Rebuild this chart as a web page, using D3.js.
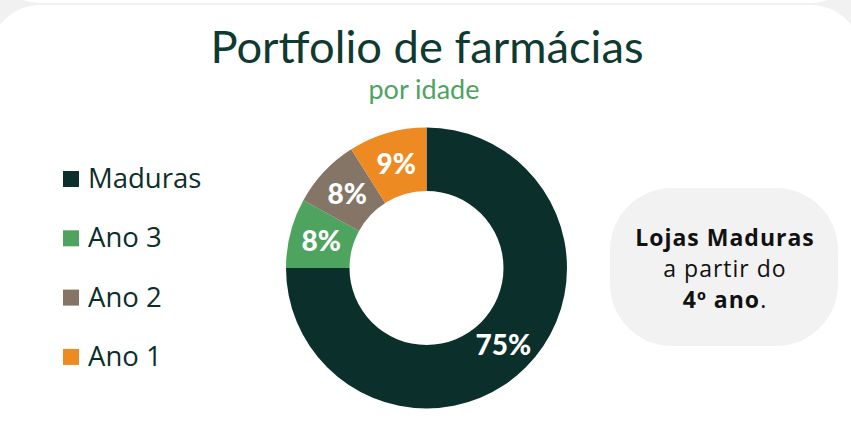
<!DOCTYPE html>
<html>
<head>
<meta charset="utf-8">
<script src="https://cdn.jsdelivr.net/npm/d3@7"></script>
<style>
  html, body { margin: 0; padding: 0; background: #f1f1f1; }
  svg { display: block; }
</style>
</head>
<body>
<svg id="board" width="851" height="433"></svg>
<script>
// chart data
let categories = ['Maduras', 'Ano 3', 'Ano 2', 'Ano 1']
let shares = [75, 8, 8, 9]
let colors = ['#0b2f2b', '#4ea35f', '#857566', '#ee8a22']
let titleText = 'Portfolio de farmácias'
let subtitleText = 'por idade'
let noteLines = [
    [{ t: 'Lojas Maduras', b: true }],
    [{ t: 'a partir do', b: false }],
    [{ t: '4º ano', b: true }, { t: '.', b: false }]
]

let board = d3.select('#board')

// background cards
board.append('rect')
    .attr('x', -10).attr('y', -100).attr('width', 871).attr('height', 103)
    .attr('rx', 50).attr('fill', '#ffffff')
board.append('rect')
    .attr('x', -10).attr('y', 5).attr('width', 871).attr('height', 500)
    .attr('rx', 50).attr('fill', '#ffffff')

// titles
board.append('text')
    .attr('x', 427).attr('y', 63)
    .attr('text-anchor', 'middle')
    .style('font-family', 'Lato')
    .style('font-size', '45.3px')
    .attr('fill', '#0f3a30')
    .text(titleText)

board.append('text')
    .attr('x', 424).attr('y', 98.5)
    .attr('text-anchor', 'middle')
    .style('font-family', 'Lato')
    .style('font-size', '27px')
    .attr('fill', '#4ea35f')
    .text(subtitleText)

// donut
let cx = 426.5, cy = 268
let outerR = 140.5, innerR = 77

let pie = d3.pie().sort(null).value((d) => d.value)
let arc = d3.arc().innerRadius(innerR).outerRadius(outerR)
let pieData = pie(categories.map((c, i) => ({ name: c, value: shares[i], color: colors[i] })))

let donut = board.append('g').attr('transform', `translate(${cx},${cy})`)

donut.selectAll('path')
    .data(pieData)
    .enter()
    .append('path')
    .attr('d', arc)
    .attr('fill', (d) => d.data.color)

donut.selectAll('text')
    .data(pieData)
    .enter()
    .append('text')
    .attr('transform', (d) => `translate(${arc.centroid(d)})`)
    .attr('text-anchor', 'middle')
    .attr('dy', '0.36em')
    .style('font-family', 'Lato')
    .style('font-weight', '900')
    .style('font-size', '28px')
    .attr('fill', '#ffffff')
    .text((d) => d.data.value + '%')

// legend
let legend = board.append('g')
let rows = legend.selectAll('g')
    .data(categories)
    .enter()
    .append('g')
    .attr('transform', (d, i) => `translate(63, ${171 + i * 59.3})`)

rows.append('rect')
    .attr('width', 16).attr('height', 16)
    .attr('fill', (d, i) => colors[i])

rows.append('text')
    .attr('x', 25).attr('y', 17)
    .style('font-family', 'Open Sans')
    .style('font-size', '27.5px')
    .attr('fill', '#0b2f2b')
    .text((d) => d)

// note box
board.append('rect')
    .attr('x', 610).attr('y', 188).attr('width', 228).attr('height', 158)
    .attr('rx', 62).attr('fill', '#f2f2f2')

let note = board.append('text')
    .attr('text-anchor', 'middle')
    .style('font-family', 'Open Sans')
    .style('font-size', '23px')
    .style('letter-spacing', '1px')
    .attr('fill', '#111111')

noteLines.forEach((line, i) => {
    line.forEach((part, j) => {
        let span = note.append('tspan')
            .style('font-weight', part.b ? 'bold' : 'normal')
            .text(part.t)
        if (j === 0) span.attr('x', 725).attr('y', 246 + i * 31)
    })
})
</script>
</body>
</html>
